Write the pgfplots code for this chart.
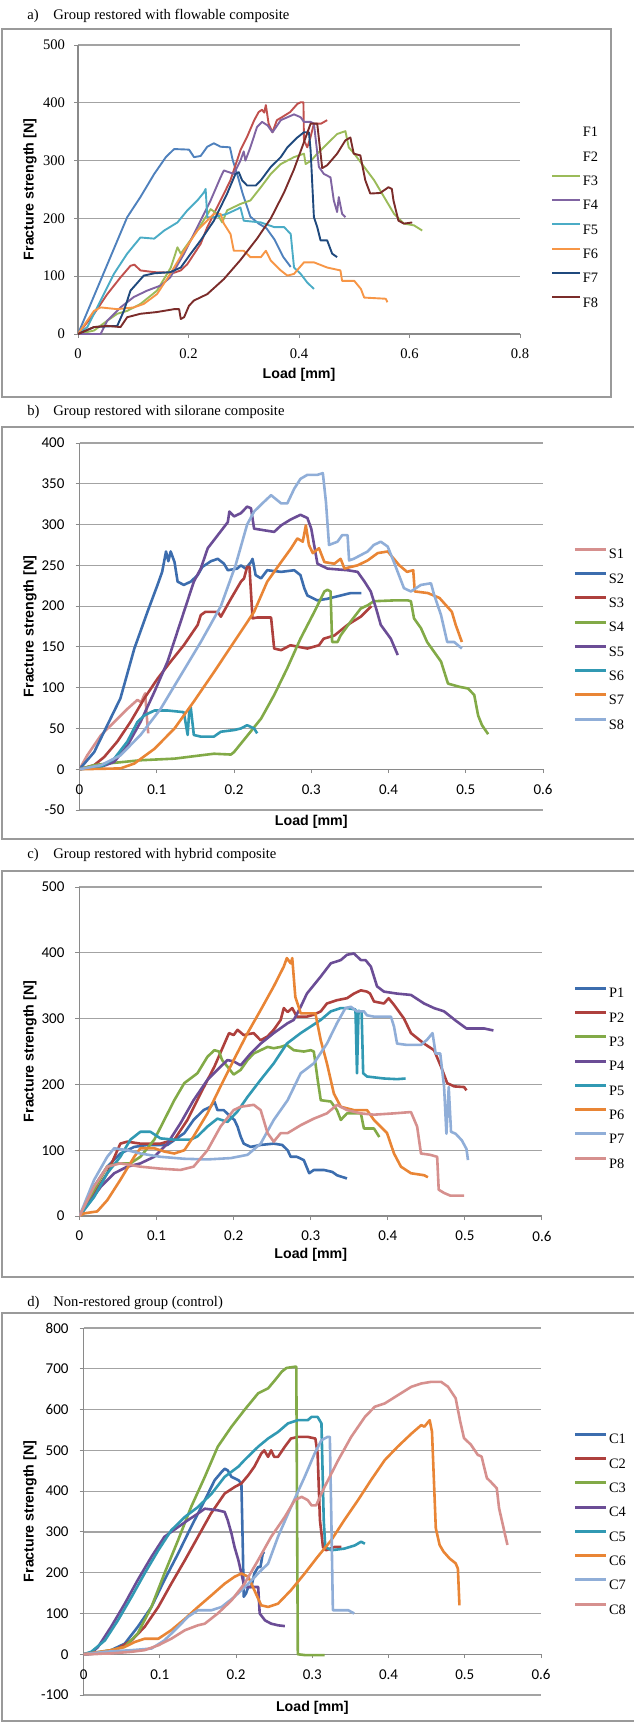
\documentclass[border=0pt]{standalone}
\usepackage{fontspec}
\setmainfont{Liberation Serif}
\newfontfamily\arialfont{Liberation Sans}
\newfontfamily\calibfont{Carlito}
\usepackage{pgfplots}
\pgfplotsset{compat=1.18}

% panel a colours (Excel 2007)
\definecolor{fA}{HTML}{4F81BD}
\definecolor{fB}{HTML}{C0504D}
\definecolor{fC}{HTML}{9BBB59}
\definecolor{fD}{HTML}{8064A2}
\definecolor{fE}{HTML}{4BACC6}
\definecolor{fF}{HTML}{F79646}
\definecolor{fG}{HTML}{1F497D}
\definecolor{fH}{HTML}{7B2C2A}
% panels b-d
\definecolor{cBlue}{HTML}{3C6DAE}
\definecolor{cRed}{HTML}{AE403D}
\definecolor{cGreen}{HTML}{82AA47}
\definecolor{cPurple}{HTML}{6B4D96}
\definecolor{cTeal}{HTML}{3199B3}
\definecolor{cOrange}{HTML}{E98535}
\definecolor{cLight}{HTML}{90AED8}
\definecolor{cPink}{HTML}{D6908E}
\definecolor{frame}{HTML}{9A9A9A}
\definecolor{gridc}{HTML}{A3A3A3}
\definecolor{axisc}{HTML}{8A8A8A}

\pgfplotsset{
  excel/.style={
    scale only axis,
    enlargelimits=false,
    axis x line*=middle,
    axis y line*=left,
    hide obscured x ticks=false,
    hide obscured y ticks=false,
    tick align=outside,
    major tick length=2pt,
    axis line style={draw=axisc, line width=0.6pt},
    tick style={draw=axisc, line width=0.5pt},
    ymajorgrids,
    grid style={draw=gridc, line width=0.6pt},
    xmin=0,
    ylabel={Fracture strength [N]},
    xlabel={Load [mm]},
    label style={font=\arialfont\bfseries\fontsize{7.1}{8}\selectfont},
    /pgf/number format/assume math mode=true,
    xticklabel style={yshift=-2pt},
    legend cell align=left,
    legend style={draw=none, fill=none, anchor=west, inner sep=0pt,
      row sep=5.75pt, font=\fontsize{7.2}{8}\selectfont,
      nodes={inner sep=0.7pt, text height=5pt, text depth=0pt}},
    every axis plot/.append style={no marks, line join=round, sharp plot},
  },
  serifticks/.style={ticklabel style={font=\fontsize{7.3}{8}\selectfont},
    yticklabel style={xshift=-1pt}},
  sansticks/.style={ticklabel style={font=\calibfont\fontsize{7.5}{9}\selectfont},
    yticklabel style={xshift=-2pt}},
}

\begin{document}
\begin{tikzpicture}
\path[use as bounding box] (0,0) rectangle (316.5pt,-861pt);

% frames and captions
\draw[frame, line width=0.6pt] (1pt,-14.5pt) rectangle (305.5pt,-198.5pt);
\draw[frame, line width=0.6pt] (1pt,-213.5pt) rectangle (320pt,-419.5pt);
\draw[frame, line width=0.6pt] (1pt,-435.5pt) rectangle (320pt,-638.5pt);
\draw[frame, line width=0.6pt] (1pt,-656.5pt) rectangle (320pt,-860.5pt);
\begin{scope}[every node/.style={font=\fontsize{7.3}{8}\selectfont, inner sep=0pt, anchor=west}]
\node at (13.5pt,-7.75pt) {a)};  \node at (26.5pt,-7.75pt) {Group restored with flowable composite};
\node at (13.5pt,-206pt) {b)};   \node at (26.5pt,-206pt) {Group restored with silorane composite};
\node at (13.5pt,-427.5pt) {c)}; \node at (26.5pt,-427.5pt) {Group restored with hybrid composite};
\node at (13.5pt,-651.5pt) {d)}; \node at (26.5pt,-651.5pt) {Non-restored group (control)};
\end{scope}

% ---------------- a) flowable ----------------
\begin{axis}[excel, serifticks,
  at={(39pt,-167pt)}, anchor=south west,
  width=221pt, height=144.5pt,
  xmax=0.8, ymin=0, ymax=500,
  xtick={0,0.2,0.4,0.6,0.8}, ytick={0,100,200,300,400,500},
  xlabel style={at={(rel axis cs:0.5,-0.1419)}, anchor=center},
  ylabel style={at={(rel axis cs:-0.1086,0.5)}, anchor=center},
  legend style={at={(1.0701,0.405)}},
  legend image code/.code={\draw[#1, line width=1pt] (0pt,2.4pt) -- (14pt,2.4pt);},
  every axis plot/.append style={line width=0.95pt},
]
\addlegendimage{empty legend}\addlegendentry{F1}
\addlegendimage{empty legend}\addlegendentry{F2}
\addplot[fA, forget plot] coordinates {(0,0) (0.089,202) (0.113,237) (0.138,277) (0.159,306) (0.174,320) (0.201,319) (0.21,306) (0.222,308) (0.234,324) (0.246,330) (0.258,324) (0.275,323) (0.28,301) (0.288,277) (0.298,243) (0.312,203) (0.327,191) (0.341,183) (0.356,163) (0.371,134) (0.385,116)};
\addplot[fB, forget plot] coordinates {(0,0) (0.029,35) (0.053,69) (0.077,98) (0.095,118) (0.102,120) (0.113,110) (0.138,107) (0.174,106) (0.186,110) (0.198,121) (0.222,156) (0.234,185) (0.246,208) (0.258,231) (0.276,266) (0.294,318) (0.306,341) (0.319,370) (0.327,384) (0.333,388) (0.337,383) (0.34,396) (0.345,364) (0.352,349) (0.36,370) (0.369,375) (0.384,384) (0.397,398) (0.403,401) (0.408,401) (0.409,335) (0.415,323) (0.421,341) (0.427,364) (0.44,364) (0.451,370)};
\addplot[fC] coordinates {(0,0) (0.029,6) (0.053,23) (0.071,35) (0.089,40) (0.113,52) (0.143,75) (0.168,115) (0.18,150) (0.186,139) (0.192,147) (0.216,179) (0.24,216) (0.252,208) (0.261,193) (0.27,214) (0.294,225) (0.312,231) (0.331,254) (0.349,277) (0.367,294) (0.391,306) (0.409,312) (0.412,294) (0.422,300) (0.433,312) (0.451,329) (0.469,346) (0.484,351) (0.49,323) (0.5,312) (0.518,289) (0.536,266) (0.554,237) (0.572,208) (0.59,191) (0.608,188) (0.623,179)};
\addlegendentry{F3}
\addplot[fD] coordinates {(0,0) (0.041,0) (0.053,23) (0.077,46) (0.101,64) (0.125,75) (0.15,84) (0.167,98) (0.192,139) (0.216,185) (0.24,231) (0.258,271) (0.264,283) (0.273,280) (0.282,277) (0.294,300) (0.3,316) (0.303,300) (0.312,323) (0.324,358) (0.333,367) (0.343,361) (0.352,349) (0.36,360) (0.367,370) (0.379,375) (0.391,380) (0.403,375) (0.409,367) (0.421,367) (0.427,364) (0.436,289) (0.445,277) (0.457,271) (0.463,231) (0.469,211) (0.472,237) (0.478,208) (0.484,202)};
\addlegendentry{F4}
\addplot[fE] coordinates {(0,0) (0.017,12) (0.041,58) (0.065,104) (0.089,139) (0.113,167) (0.138,165) (0.156,179) (0.18,193) (0.198,214) (0.216,231) (0.228,245) (0.231,251) (0.234,202) (0.246,202) (0.27,208) (0.288,216) (0.294,219) (0.3,196) (0.331,193) (0.355,185) (0.373,185) (0.385,173) (0.391,115) (0.403,104) (0.415,89) (0.427,78)};
\addlegendentry{F5}
\addplot[fF] coordinates {(0,0) (0.029,40) (0.041,46) (0.071,43) (0.101,46) (0.119,52) (0.143,69) (0.167,104) (0.192,144) (0.216,179) (0.246,208) (0.258,208) (0.264,191) (0.276,173) (0.282,144) (0.3,144) (0.312,133) (0.331,133) (0.34,144) (0.349,127) (0.367,110) (0.379,101) (0.391,104) (0.409,124) (0.427,124) (0.451,115) (0.475,110) (0.478,92) (0.5,92) (0.512,78) (0.518,63) (0.557,61) (0.56,55)};
\addlegendentry{F6}
\addplot[fG] coordinates {(0,0) (0.029,12) (0.071,14) (0.083,40) (0.095,75) (0.119,101) (0.138,105) (0.167,107) (0.186,115) (0.204,139) (0.222,162) (0.246,196) (0.27,243) (0.285,277) (0.291,280) (0.297,266) (0.306,257) (0.322,257) (0.331,266) (0.349,289) (0.367,306) (0.379,323) (0.397,340) (0.409,349) (0.418,349) (0.421,318) (0.427,202) (0.433,185) (0.439,162) (0.451,162) (0.46,139) (0.469,133)};
\addlegendentry{F7}
\addplot[fH] coordinates {(0,0) (0.029,12) (0.053,14) (0.077,12) (0.089,29) (0.113,35) (0.143,38) (0.174,43) (0.183,43) (0.186,26) (0.192,29) (0.201,49) (0.21,58) (0.234,69) (0.264,95) (0.294,128) (0.324,165) (0.349,200) (0.373,245) (0.391,285) (0.409,332) (0.421,364) (0.433,364) (0.442,287) (0.451,292) (0.469,312) (0.484,335) (0.493,340) (0.499,312) (0.511,309) (0.52,266) (0.529,243) (0.547,244) (0.562,254) (0.568,251) (0.571,231) (0.58,196) (0.59,191) (0.605,193)};
\addlegendentry{F8}
\end{axis}

% ---------------- b) silorane ----------------
\begin{axis}[excel, sansticks,
  at={(39.75pt,-405pt)}, anchor=south west,
  width=231.75pt, height=183.5pt,
  xmax=0.6, ymin=-50, ymax=400,
  xtick={0,0.1,0.2,0.3,0.4,0.5,0.6}, ytick={-50,0,50,100,150,200,250,300,350,400},
  xlabel style={at={(rel axis cs:0.5,-0.0327)}, anchor=center},
  ylabel style={at={(rel axis cs:-0.1068,0.5)}, anchor=center},
  legend style={at={(1.0647,0.466)}},
  legend image code/.code={\draw[#1, line width=1.5pt] (0pt,2.4pt) -- (15.5pt,2.4pt);},
  every axis plot/.append style={line width=1.3pt},
]
\addplot[cPink] coordinates {(0,0) (0.01,17) (0.028,42) (0.045,58) (0.062,74) (0.075,85) (0.08,82) (0.082,87) (0.085,93) (0.087,66) (0.089,44)};
\addlegendentry{S1}
\addplot[cBlue] coordinates {(0,0) (0.019,21) (0.036,54) (0.053,87) (0.071,148) (0.088,193) (0.101,226) (0.107,242) (0.112,267) (0.115,255) (0.118,267) (0.123,254) (0.127,230) (0.135,226) (0.144,230) (0.153,238) (0.159,248) (0.17,255) (0.179,258) (0.187,252) (0.192,244) (0.204,246) (0.209,250) (0.215,246) (0.222,254) (0.224,258) (0.228,238) (0.235,234) (0.243,244) (0.261,242) (0.278,244) (0.286,238) (0.291,222) (0.295,213) (0.308,207) (0.321,209) (0.338,213) (0.351,216) (0.365,216)};
\addlegendentry{S2}
\addplot[cRed] coordinates {(0,0) (0.019,5) (0.032,15) (0.049,34) (0.066,58) (0.084,87) (0.101,111) (0.118,132) (0.135,152) (0.153,177) (0.157,189) (0.163,193) (0.179,193) (0.183,187) (0.196,209) (0.209,230) (0.213,234) (0.217,248) (0.22,248) (0.224,185) (0.23,186) (0.248,186) (0.252,148) (0.261,146) (0.273,152) (0.295,148) (0.31,152) (0.316,160) (0.33,164) (0.347,177) (0.364,187) (0.378,200)};
\addlegendentry{S3}
\addplot[cGreen] coordinates {(0,0) (0.019,5) (0.036,7) (0.079,11) (0.123,13) (0.157,17) (0.174,19) (0.196,18) (0.2,21) (0.218,42) (0.235,62) (0.252,91) (0.269,124) (0.286,160) (0.304,193) (0.317,218) (0.321,220) (0.325,218) (0.327,156) (0.334,156) (0.338,164) (0.351,181) (0.364,197) (0.373,201) (0.381,206) (0.407,207) (0.425,207) (0.429,206) (0.433,185) (0.442,173) (0.45,156) (0.468,132) (0.477,105) (0.492,101) (0.503,99) (0.511,91) (0.516,66) (0.521,54) (0.529,43)};
\addlegendentry{S4}
\addplot[cPurple] coordinates {(0,0) (0.028,3) (0.045,9) (0.062,29) (0.079,58) (0.097,95) (0.114,132) (0.131,181) (0.148,230) (0.157,246) (0.166,271) (0.179,287) (0.192,303) (0.194,316) (0.2,310) (0.209,314) (0.217,322) (0.222,320) (0.226,295) (0.239,293) (0.252,291) (0.261,299) (0.273,306) (0.286,312) (0.295,308) (0.3,295) (0.308,252) (0.321,246) (0.347,244) (0.36,242) (0.369,230) (0.377,218) (0.384,197) (0.39,177) (0.403,160) (0.412,140)};
\addlegendentry{S5}
\addplot[cTeal] coordinates {(0,0) (0.028,3) (0.045,13) (0.062,34) (0.075,58) (0.084,66) (0.097,72) (0.114,72) (0.135,70) (0.14,42) (0.142,70) (0.144,76) (0.148,42) (0.157,40) (0.174,40) (0.183,46) (0.2,48) (0.209,50) (0.217,54) (0.226,50) (0.23,44)};
\addlegendentry{S6}
\addplot[cOrange] coordinates {(0,0) (0.053,1) (0.071,7) (0.097,25) (0.123,50) (0.148,83) (0.174,119) (0.2,156) (0.226,193) (0.243,230) (0.261,254) (0.274,271) (0.282,283) (0.289,279) (0.293,299) (0.297,275) (0.302,265) (0.31,271) (0.317,254) (0.33,252) (0.338,258) (0.343,246) (0.351,248) (0.36,250) (0.373,256) (0.386,265) (0.399,267) (0.414,250) (0.424,242) (0.432,244) (0.434,218) (0.451,216) (0.466,210) (0.482,193) (0.487,177) (0.495,156)};
\addlegendentry{S7}
\addplot[cLight] coordinates {(0,0) (0.028,5) (0.053,17) (0.079,42) (0.105,74) (0.131,115) (0.157,156) (0.183,200) (0.202,250) (0.217,300) (0.226,316) (0.239,328) (0.248,336) (0.261,326) (0.269,326) (0.278,344) (0.286,356) (0.295,361) (0.308,361) (0.315,363) (0.319,328) (0.323,275) (0.334,279) (0.34,287) (0.347,287) (0.349,256) (0.355,258) (0.373,267) (0.381,275) (0.39,279) (0.399,273) (0.407,254) (0.42,222) (0.429,218) (0.442,226) (0.455,228) (0.459,214) (0.468,189) (0.476,156) (0.485,156) (0.495,148)};
\addlegendentry{S8}
\end{axis}

% ---------------- c) hybrid ----------------
\begin{axis}[excel, sansticks,
  at={(39.75pt,-608pt)}, anchor=south west,
  width=231.25pt, height=164.5pt,
  xmax=0.6, ymin=0, ymax=500,
  xtick={0,0.1,0.2,0.3,0.4,0.5,0.6}, ytick={0,100,200,300,400,500},
  xlabel style={at={(rel axis cs:0.5,-0.1185)}, anchor=center},
  ylabel style={at={(rel axis cs:-0.1070,0.5)}, anchor=center},
  legend style={at={(1.0676,0.4195)}},
  legend image code/.code={\draw[#1, line width=1.5pt] (0pt,2.4pt) -- (15.5pt,2.4pt);},
  every axis plot/.append style={line width=1.3pt},
]
\addplot[cBlue] coordinates {(0,0) (0.019,45) (0.036,75) (0.053,95) (0.071,105) (0.088,108) (0.114,108) (0.136,126) (0.148,146) (0.161,161) (0.17,166) (0.175,174) (0.179,161) (0.187,161) (0.196,151) (0.201,146) (0.205,136) (0.209,121) (0.213,110) (0.222,105) (0.235,108) (0.252,110) (0.263,108) (0.27,100) (0.274,90) (0.282,90) (0.291,85) (0.298,65) (0.304,70) (0.317,70) (0.328,67) (0.334,62) (0.347,57)};
\addlegendentry{P1}
\addplot[cRed] coordinates {(0,0) (0.019,34) (0.036,65) (0.053,110) (0.062,113) (0.079,110) (0.105,110) (0.123,116) (0.14,146) (0.157,186) (0.175,227) (0.188,262) (0.194,278) (0.2,275) (0.205,283) (0.213,275) (0.226,278) (0.235,267) (0.244,273) (0.252,283) (0.261,298) (0.265,316) (0.27,310) (0.276,316) (0.282,303) (0.295,303) (0.304,306) (0.313,311) (0.321,323) (0.334,328) (0.347,331) (0.356,338) (0.365,343) (0.373,341) (0.377,338) (0.382,326) (0.395,323) (0.401,331) (0.408,321) (0.421,300) (0.43,278) (0.447,262) (0.46,252) (0.469,227) (0.477,202) (0.486,197) (0.499,196) (0.502,191)};
\addlegendentry{P2}
\addplot[cGreen] coordinates {(0,0) (0.019,40) (0.036,75) (0.049,80) (0.066,80) (0.079,90) (0.097,116) (0.11,146) (0.123,176) (0.136,202) (0.153,217) (0.166,242) (0.175,252) (0.181,250) (0.185,237) (0.192,227) (0.2,215) (0.209,222) (0.218,237) (0.226,247) (0.235,252) (0.244,257) (0.252,255) (0.261,257) (0.269,260) (0.278,252) (0.291,250) (0.3,252) (0.304,250) (0.309,207) (0.313,176) (0.326,174) (0.334,161) (0.339,146) (0.347,156) (0.365,156) (0.369,133) (0.382,133) (0.389,120)};
\addlegendentry{P3}
\addplot[cPurple] coordinates {(0,0) (0.028,45) (0.045,65) (0.062,75) (0.079,80) (0.097,90) (0.114,110) (0.131,141) (0.148,176) (0.166,207) (0.183,227) (0.192,237) (0.2,235) (0.209,229) (0.222,247) (0.235,262) (0.252,278) (0.27,293) (0.278,298) (0.287,318) (0.295,338) (0.313,364) (0.326,384) (0.339,389) (0.347,397) (0.356,399) (0.365,389) (0.371,389) (0.378,379) (0.386,349) (0.395,341) (0.412,338) (0.43,336) (0.447,323) (0.46,316) (0.473,311) (0.488,297) (0.502,285) (0.525,285) (0.537,282)};
\addlegendentry{P4}
\addplot[cTeal] coordinates {(0,0) (0.019,29) (0.036,65) (0.053,90) (0.066,116) (0.079,128) (0.092,128) (0.105,118) (0.123,116) (0.144,116) (0.153,121) (0.166,136) (0.179,148) (0.192,143) (0.205,159) (0.218,181) (0.235,207) (0.252,232) (0.269,262) (0.287,278) (0.3,288) (0.313,298) (0.326,311) (0.339,316) (0.347,316) (0.358,314) (0.36,217) (0.362,312) (0.366,310) (0.368,217) (0.373,212) (0.395,209) (0.412,208) (0.423,209)};
\addlegendentry{P5}
\addplot[cOrange] coordinates {(0,0) (0.006,4) (0.023,7) (0.036,24) (0.053,55) (0.071,90) (0.079,103) (0.097,103) (0.11,98) (0.123,95) (0.136,100) (0.148,121) (0.166,156) (0.183,197) (0.2,237) (0.218,278) (0.235,313) (0.252,349) (0.265,379) (0.269,392) (0.274,384) (0.276,392) (0.28,333) (0.287,308) (0.306,308) (0.313,267) (0.321,232) (0.33,186) (0.339,166) (0.356,161) (0.373,161) (0.382,146) (0.399,126) (0.408,95) (0.417,75) (0.43,65) (0.447,62) (0.452,59)};
\addlegendentry{P6}
\addplot[cLight] coordinates {(0,0) (0.019,55) (0.036,90) (0.045,103) (0.062,100) (0.079,95) (0.105,90) (0.136,87) (0.166,86) (0.196,88) (0.218,93) (0.235,110) (0.252,146) (0.27,176) (0.287,217) (0.304,232) (0.321,262) (0.334,293) (0.345,316) (0.352,318) (0.36,311) (0.369,311) (0.373,305) (0.382,303) (0.404,303) (0.408,288) (0.412,262) (0.425,260) (0.443,260) (0.451,268) (0.458,278) (0.462,247) (0.468,247) (0.473,196) (0.476,125) (0.479,196) (0.482,128) (0.488,125) (0.496,115) (0.502,102) (0.504,85)};
\addlegendentry{P7}
\addplot[cPink] coordinates {(0,0) (0.019,45) (0.036,75) (0.053,80) (0.079,75) (0.105,72) (0.131,70) (0.148,75) (0.166,100) (0.183,136) (0.2,161) (0.209,166) (0.226,169) (0.235,161) (0.244,126) (0.252,113) (0.261,126) (0.27,126) (0.287,138) (0.304,148) (0.321,156) (0.334,169) (0.347,161) (0.365,156) (0.382,154) (0.408,156) (0.43,158) (0.438,136) (0.443,95) (0.455,93) (0.464,90) (0.466,40) (0.473,35) (0.481,31) (0.499,31)};
\addlegendentry{P8}
\end{axis}

% ---------------- d) control ----------------
\begin{axis}[excel, sansticks,
  at={(41.8pt,-847.5pt)}, anchor=south west,
  width=228.7pt, height=183.5pt,
  xmax=0.6, ymin=-100, ymax=800,
  xtick={0,0.1,0.2,0.3,0.4,0.5,0.6}, ytick={-100,0,100,200,300,400,500,600,700,800},
  xlabel style={at={(rel axis cs:0.5,-0.0354)}, anchor=center},
  ylabel style={at={(rel axis cs:-0.1172,0.5)}, anchor=center},
  legend style={at={(1.0706,0.466)}},
  legend image code/.code={\draw[#1, line width=1.5pt] (0pt,2.4pt) -- (15.5pt,2.4pt);},
  every axis plot/.append style={line width=1.3pt},
]
\addplot[cBlue] coordinates {(0,0) (0.019,2) (0.036,10) (0.054,26) (0.071,67) (0.089,116) (0.106,182) (0.124,247) (0.141,312) (0.159,378) (0.172,427) (0.181,447) (0.185,455) (0.189,451) (0.194,435) (0.203,427) (0.207,419) (0.209,247) (0.21,141) (0.213,149) (0.216,165) (0.22,165) (0.224,198) (0.229,214) (0.232,214) (0.235,247) (0.237,251)};
\addlegendentry{C1}
\addplot[cRed] coordinates {(0,0) (0.028,2) (0.045,14) (0.063,34) (0.08,67) (0.098,116) (0.115,173) (0.133,231) (0.15,288) (0.167,345) (0.185,394) (0.198,410) (0.207,419) (0.216,439) (0.224,460) (0.233,492) (0.237,500) (0.242,484) (0.246,500) (0.25,484) (0.255,484) (0.264,509) (0.272,529) (0.281,533) (0.294,533) (0.304,529) (0.307,492) (0.31,329) (0.314,263) (0.318,255) (0.329,263) (0.338,263)};
\addlegendentry{C2}
\addplot[cGreen] coordinates {(0,0) (0.036,10) (0.054,18) (0.071,51) (0.089,116) (0.106,198) (0.124,280) (0.141,361) (0.159,435) (0.176,509) (0.194,558) (0.211,599) (0.229,640) (0.242,652) (0.251,672) (0.26,693) (0.266,702) (0.277,705) (0.279,705) (0.281,0) (0.29,-2) (0.316,-2)};
\addlegendentry{C3}
\addplot[cPurple] coordinates {(0,0) (0.01,2) (0.019,18) (0.036,67) (0.054,124) (0.071,182) (0.089,239) (0.106,288) (0.124,312) (0.137,329) (0.15,345) (0.159,357) (0.176,353) (0.185,349) (0.189,329) (0.194,296) (0.198,263) (0.203,231) (0.207,198) (0.211,165) (0.22,165) (0.229,165) (0.231,100) (0.238,83) (0.246,75) (0.255,71) (0.264,69)};
\addlegendentry{C4}
\addplot[cTeal] coordinates {(0,0) (0.01,6) (0.028,34) (0.045,83) (0.063,141) (0.08,198) (0.098,255) (0.115,304) (0.133,337) (0.15,361) (0.168,394) (0.185,435) (0.203,460) (0.211,476) (0.229,509) (0.242,529) (0.255,545) (0.268,566) (0.281,574) (0.294,574) (0.299,582) (0.307,582) (0.312,566) (0.315,329) (0.317,263) (0.325,255) (0.342,259) (0.356,267) (0.364,276) (0.369,271)};
\addlegendentry{C5}
\addplot[cOrange] coordinates {(0,0) (0.036,10) (0.054,18) (0.067,30) (0.08,38) (0.098,38) (0.115,59) (0.133,87) (0.15,116) (0.168,145) (0.185,173) (0.198,190) (0.207,198) (0.216,190) (0.224,157) (0.233,120) (0.242,116) (0.255,124) (0.272,157) (0.29,198) (0.307,239) (0.325,280) (0.342,329) (0.36,378) (0.377,427) (0.395,476) (0.412,509) (0.43,541) (0.443,562) (0.447,558) (0.454,574) (0.457,546) (0.462,309) (0.467,268) (0.472,252) (0.48,235) (0.488,223) (0.491,210) (0.493,120)};
\addlegendentry{C6}
\addplot[cLight] coordinates {(0,0) (0.028,6) (0.063,10) (0.089,14) (0.106,34) (0.124,67) (0.137,92) (0.15,108) (0.168,108) (0.181,116) (0.198,141) (0.216,173) (0.233,206) (0.242,222) (0.255,288) (0.272,361) (0.29,435) (0.303,492) (0.312,525) (0.32,533) (0.323,533) (0.325,329) (0.327,108) (0.338,108) (0.347,108) (0.355,100)};
\addlegendentry{C7}
\addplot[cPink] coordinates {(0,0) (0.036,2) (0.063,6) (0.08,10) (0.098,22) (0.115,38) (0.133,59) (0.15,71) (0.159,75) (0.176,100) (0.194,132) (0.211,173) (0.229,231) (0.246,288) (0.264,337) (0.277,378) (0.286,386) (0.294,378) (0.299,365) (0.305,365) (0.316,410) (0.334,476) (0.351,533) (0.369,582) (0.382,607) (0.395,615) (0.412,635) (0.43,656) (0.443,664) (0.456,668) (0.469,668) (0.478,656) (0.488,628) (0.494,571) (0.499,530) (0.508,514) (0.517,489) (0.522,485) (0.529,432) (0.534,423) (0.542,407) (0.545,358) (0.55,317) (0.553,292) (0.556,268)};
\addlegendentry{C8}
\end{axis}
\end{tikzpicture}
\end{document}
